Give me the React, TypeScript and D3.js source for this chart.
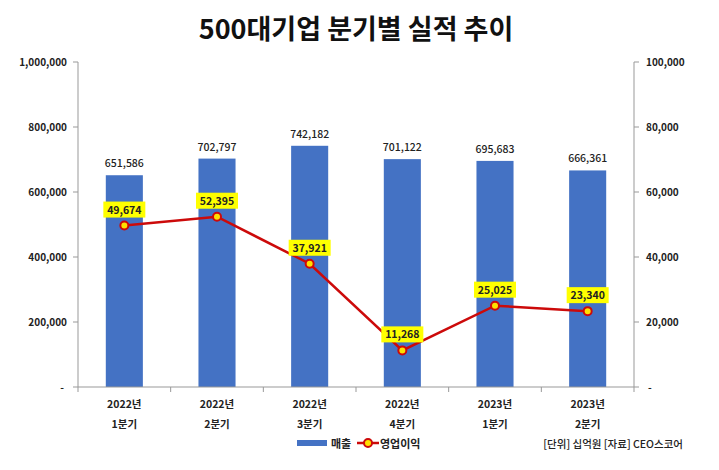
import React from "react";
import * as d3 from "d3";

const years = ["2022년", "2022년", "2022년", "2022년", "2023년", "2023년"];
const quarters = ["1분기", "2분기", "3분기", "4분기", "1분기", "2분기"];
const sales = [651586, 702797, 742182, 701122, 695683, 666361];
const profit = [49674, 52395, 37921, 11268, 25025, 23340];
const leftTicks = [0, 200000, 400000, 600000, 800000, 1000000];
const rightTicks = [0, 20000, 40000, 60000, 80000, 100000];
const seriesNames = ["매출", "영업이익"];
const title = "500대기업 분기별 실적 추이";
const note = "[단위] 십억원 [자료] CEO스코어";

const W = 719;
const H = 470;
const FONT = "'Noto Sans CJK KR', 'Noto Sans', sans-serif";

export default function App() {
  const left = 78;
  const right = 634;
  const top = 62;
  const bottom = 387;
  const idx = sales.map((_, i) => String(i));
  const x = d3.scaleBand().domain(idx).range([left, right]).paddingInner(0.6).paddingOuter(0.3);
  const xOuter = d3.scaleBand().domain(idx).range([left, right]);
  const yL = d3.scaleLinear().domain([0, 1000000]).range([bottom, top]);
  const yR = d3.scaleLinear().domain([0, 100000]).range([bottom, top]);
  const fmt = d3.format(",");
  const cx = (i: number) => (xOuter(String(i)) as number) + xOuter.bandwidth() / 2;
  const line = d3
    .line<number>()
    .x((_, i) => cx(i))
    .y((d) => yR(d));
  const lineColor = "#CC0A0A";
  const markerFill = "#FFE000";

  return (
    <svg width={W} height={H} style={{ position: "absolute", left: 0, top: 0, background: "#fff" }} fontFamily={FONT}>
      <rect x={0} y={0} width={W} height={H} fill="#fff" />
      <text x={356} y={39} textAnchor="middle" fontSize={27} fontWeight="bold" fill="#111">
        {title}
      </text>
      {/* left axis */}
      <line x1={left} x2={left} y1={top} y2={bottom} stroke="#999" strokeWidth={1} />
      {leftTicks.map((t) => (
        <g key={"l" + t}>
          <line x1={left - 5} x2={left} y1={yL(t)} y2={yL(t)} stroke="#999" />
          <text x={t === 0 ? 64 : 67} y={yL(t) + 4} textAnchor="end" fontSize={10} fontWeight="600" fill="#222">
            {t === 0 ? "-" : fmt(t)}
          </text>
        </g>
      ))}
      {/* right axis */}
      <line x1={right} x2={right} y1={top} y2={bottom} stroke="#999" strokeWidth={1} />
      {rightTicks.map((t) => (
        <g key={"r" + t}>
          <line x1={right} x2={right + 5} y1={yR(t)} y2={yR(t)} stroke="#999" />
          <text x={t === 0 ? 648 : 646} y={yR(t) + 4} textAnchor="start" fontSize={10} fontWeight="600" fill="#222">
            {t === 0 ? "-" : fmt(t)}
          </text>
        </g>
      ))}
      {/* bars */}
      {sales.map((v, i) => (
        <rect
          key={"b" + i}
          x={x(String(i)) as number}
          y={yL(v)}
          width={x.bandwidth()}
          height={bottom - yL(v)}
          fill="#4472C4"
        />
      ))}
      {/* x axis */}
      <line x1={left} x2={right} y1={bottom} y2={bottom} stroke="#999" />
      {d3.range(sales.length + 1).map((i) => {
        const px = left + (i * (right - left)) / sales.length;
        return <line key={"xt" + i} x1={px} x2={px} y1={bottom} y2={bottom + 5} stroke="#999" />;
      })}
      {years.map((yv, i) => (
        <g key={"c" + i}>
          <text x={cx(i)} y={408} textAnchor="middle" fontSize={10.5} fontWeight="600" fill="#222">
            {yv}
          </text>
          <text x={cx(i)} y={428} textAnchor="middle" fontSize={10.5} fontWeight="600" fill="#222">
            {quarters[i]}
          </text>
        </g>
      ))}
      {/* bar labels */}
      {sales.map((v, i) => (
        <text key={"bl" + i} x={cx(i)} y={yL(v) - 8} textAnchor="middle" fontSize={10.5} fontWeight="500" fill="#222">
          {fmt(v)}
        </text>
      ))}
      {/* line */}
      <path d={line(profit) as string} fill="none" stroke={lineColor} strokeWidth={2.5} />
      {profit.map((v, i) => (
        <circle key={"m" + i} cx={cx(i)} cy={yR(v)} r={4} fill={markerFill} stroke={lineColor} strokeWidth={2} />
      ))}
      {profit.map((v, i) => (
        <g key={"pl" + i}>
          <rect x={cx(i) - 21} y={yR(v) - 24} width={42} height={16} fill="#FFFF00" />
          <text x={cx(i)} y={yR(v) - 12} textAnchor="middle" fontSize={10.5} fontWeight="600" fill="#222">
            {fmt(v)}
          </text>
        </g>
      ))}
      {/* legend */}
      <rect x={297} y={440} width={30} height={6} fill="#4472C4" />
      <text x={331} y={447.5} fontSize={11} fontWeight="600" fill="#222">
        {seriesNames[0]}
      </text>
      <line x1={357} x2={379} y1={443} y2={443} stroke={lineColor} strokeWidth={2.5} />
      <circle cx={368} cy={443} r={4} fill={markerFill} stroke={lineColor} strokeWidth={2} />
      <text x={380} y={447.5} fontSize={11} fontWeight="600" fill="#222">
        {seriesNames[1]}
      </text>
      <text x={683} y={447.5} textAnchor="end" fontSize={10.5} fontWeight="500" fill="#222">
        {note}
      </text>
    </svg>
  );
}
